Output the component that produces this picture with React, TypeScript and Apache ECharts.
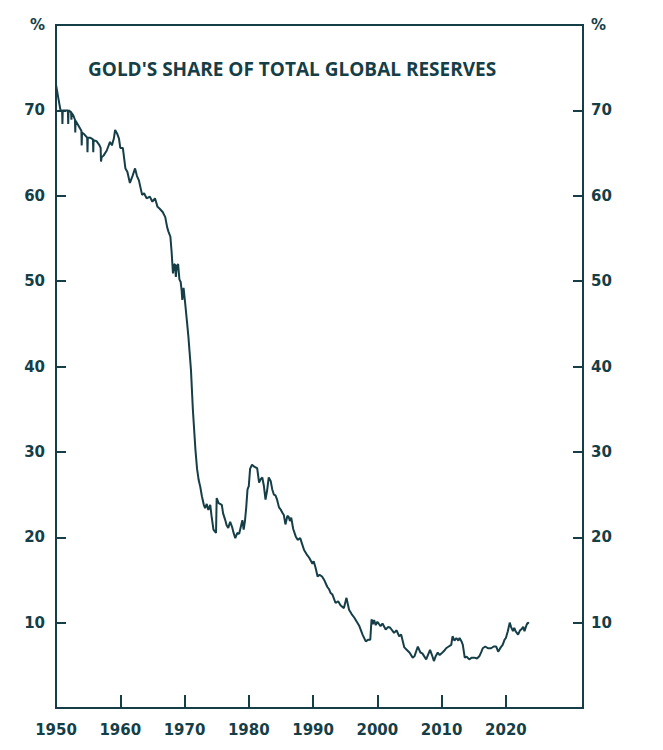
import React, { useEffect, useRef } from 'react';
import * as echarts from 'echarts';

const INK = '#153e47';

// Gold's share of total global reserves, %, by (decimal) year
const years = [
  1950.0, 1950.35, 1950.7, 1950.95, 1951.0, 1951.05, 1951.5, 1951.85, 1951.9, 1951.95,
  1952.35, 1952.4, 1952.45, 1952.7, 1952.95, 1953.0, 1953.05, 1953.5, 1953.95, 1954.0,
  1954.05, 1954.4, 1954.85, 1954.9, 1954.95, 1955.3, 1955.75, 1955.8, 1955.85, 1956.3,
  1956.7, 1956.95, 1957.0, 1957.1, 1957.4, 1957.9, 1958.4, 1958.7, 1959.0, 1959.2,
  1959.5, 1959.8, 1960.0, 1960.4, 1960.8, 1961.1, 1961.5, 1961.9, 1962.3, 1962.6,
  1962.9, 1963.4, 1963.7, 1964.1, 1964.6, 1965.0, 1965.4, 1965.8, 1966.1, 1966.6,
  1967.0, 1967.3, 1967.5, 1967.8, 1968.0, 1968.2, 1968.35, 1968.5, 1968.65, 1968.8,
  1969.0, 1969.2, 1969.4, 1969.55, 1969.65, 1969.85, 1970.1, 1970.35, 1970.6, 1971.0,
  1971.3, 1971.7, 1971.95, 1972.2, 1972.45, 1972.7, 1973.0, 1973.2, 1973.45, 1973.7,
  1974.0, 1974.2, 1974.5, 1974.9, 1975.0, 1975.3, 1975.8, 1976.0, 1976.3, 1976.55,
  1976.8, 1977.1, 1977.4, 1977.6, 1977.9, 1978.2, 1978.5, 1978.75, 1979.0, 1979.2,
  1979.4, 1979.6, 1979.8, 1980.0, 1980.2, 1980.5, 1980.8, 1981.0, 1981.3, 1981.6,
  1981.85, 1982.1, 1982.35, 1982.6, 1982.85, 1983.1, 1983.4, 1983.65, 1983.9, 1984.15,
  1984.4, 1984.7, 1985.0, 1985.2, 1985.45, 1985.7, 1986.0, 1986.2, 1986.4, 1986.6,
  1986.9, 1987.3, 1987.6, 1988.0, 1988.3, 1988.6, 1989.0, 1989.4, 1989.9, 1990.1,
  1990.4, 1990.7, 1991.0, 1991.4, 1991.8, 1992.2, 1992.5, 1992.7, 1993.0, 1993.5,
  1993.9, 1994.3, 1994.8, 1995.2, 1995.4, 1995.6, 1996.0, 1996.4, 1996.8, 1997.2,
  1997.7, 1998.2, 1998.6, 1998.9, 1999.1, 1999.3, 1999.5, 1999.75, 2000.0, 2000.5,
  2000.8, 2001.3, 2001.7, 2002.0, 2002.6, 2003.0, 2003.4, 2003.7, 2004.2, 2004.6,
  2005.0, 2005.5, 2005.8, 2006.3, 2006.7, 2007.0, 2007.6, 2008.2, 2008.5, 2008.8,
  2009.1, 2009.4, 2009.7, 2010.0, 2010.4, 2010.7, 2011.1, 2011.5, 2011.7, 2012.0,
  2012.3, 2012.6, 2012.8, 2013.1, 2013.3, 2013.6, 2013.9, 2014.3, 2014.7, 2015.1,
  2015.5, 2015.9, 2016.2, 2016.4, 2016.8, 2017.2, 2017.7, 2018.1, 2018.5, 2018.8,
  2019.2, 2019.5, 2019.8, 2020.0, 2020.3, 2020.6, 2020.8, 2021.1, 2021.3, 2021.5,
  2021.9, 2022.2, 2022.4, 2022.7, 2022.9, 2023.2, 2023.4, 2023.6,
];

const share = [
  73.0, 71.5, 70.0, 70.0, 68.4, 70.0, 70.0, 70.0, 68.4, 70.0,
  69.8, 68.9, 69.7, 69.4, 68.9, 67.4, 68.8, 68.2, 67.6, 65.9,
  67.4, 67.2, 66.8, 65.1, 66.8, 66.8, 66.6, 65.1, 66.5, 66.4,
  66.0, 65.6, 64.0, 64.5, 64.7, 65.3, 66.3, 65.9, 66.7, 67.7,
  67.3, 66.7, 65.6, 65.6, 63.2, 62.8, 61.5, 62.3, 63.2, 62.3,
  61.8, 60.1, 60.3, 59.7, 59.9, 59.3, 59.7, 58.7, 58.5, 58.1,
  57.5, 56.3, 55.8, 55.2, 53.3, 50.9, 51.9, 52.0, 50.5, 51.8,
  52.0, 50.2, 49.9, 48.9, 47.8, 49.2, 47.4, 45.5, 43.5, 39.6,
  34.9, 30.2, 28.0, 26.7, 25.9, 24.8, 23.8, 23.4, 23.9, 23.2,
  23.8, 22.5, 20.9, 20.5, 24.6, 24.0, 23.8, 22.8, 22.1, 21.4,
  21.1, 21.8, 21.2, 20.6, 19.9, 20.5, 20.4, 21.2, 22.0, 20.9,
  21.9, 23.5, 25.6, 26.0, 28.0, 28.5, 28.3, 28.2, 28.1, 26.4,
  26.8, 27.0, 26.0, 24.4, 25.5, 27.0, 26.6, 25.6, 25.0, 24.9,
  24.4, 23.5, 23.2, 22.9, 22.6, 21.5, 22.5, 22.4, 21.9, 22.3,
  21.0, 20.1, 19.7, 19.9, 19.2, 18.5, 18.0, 17.6, 16.9, 17.2,
  16.4, 15.4, 15.6, 15.4, 14.9, 14.2, 13.9, 13.5, 13.3, 12.3,
  12.5, 12.0, 11.7, 12.9, 12.2, 11.5, 11.0, 10.6, 10.1, 9.6,
  8.6, 7.8, 8.0, 8.0, 10.4, 9.8, 10.3, 9.7, 10.1, 9.6,
  9.9, 9.2, 9.5, 9.4, 8.8, 9.1, 8.4, 8.6, 7.1, 6.8,
  6.5, 5.9, 6.1, 7.2, 6.5, 6.4, 5.7, 6.8, 6.2, 5.5,
  6.1, 6.5, 6.2, 6.4, 6.7, 7.0, 7.2, 7.4, 8.4, 7.9,
  8.2, 7.9, 8.2, 7.8, 7.4, 5.9, 6.0, 5.7, 5.9, 5.9,
  5.8, 6.1, 6.6, 7.0, 7.2, 7.0, 7.0, 7.2, 7.2, 6.6,
  7.1, 7.4, 8.0, 8.2, 9.0, 10.0, 9.5, 9.0, 9.4, 9.0,
  8.6, 9.1, 9.2, 9.5, 9.0, 9.7, 10.0, 9.9,
];

const yearTicks = [1960, 1970, 1980, 1990, 2000, 2010, 2020];
const yearLabels = [1950, 1960, 1970, 1980, 1990, 2000, 2010, 2020];
const shareTicks = [10, 20, 30, 40, 50, 60, 70];
const shareLabels = [10, 20, 30, 40, 50, 60, 70, 80];

const TITLE = "GOLD'S SHARE OF TOTAL GLOBAL RESERVES";

export default function App() {
  const ref = useRef<HTMLDivElement>(null);

  useEffect(() => {
    document.body.style.margin = '0';
    const chart = echarts.init(ref.current!, null, { renderer: 'svg' });

    const labelFont = {
      color: INK,
      fontFamily: 'DejaVu Sans',
      fontWeight: 'bold' as const,
      fontSize: 15,
    };

    const shareAxis = (position: 'left' | 'right', margin: number) => ({
      type: 'value' as const,
      position,
      min: 0,
      max: 80,
      interval: 10,
      axisLine: { show: true, lineStyle: { color: INK, width: 2 } },
      axisTick: {
        show: true,
        inside: true,
        length: 10,
        customValues: shareTicks,
        lineStyle: { color: INK, width: 2 },
      },
      axisLabel: {
        ...labelFont,
        margin,
        padding: [4, 0, 0, 0],
        customValues: shareLabels,
        formatter: (v: number) => (v === 80 ? '%' : String(v)),
      },
      splitLine: { show: false },
    });

    chart.setOption({
      animation: false,
      grid: {
        left: 56,
        right: 80,
        top: 25,
        bottom: 42,
        show: true,
        borderColor: INK,
        borderWidth: 2,
      },
      title: {
        text: TITLE,
        left: 88,
        top: 59,
        padding: 0,
        textStyle: {
          color: INK,
          fontFamily: 'Open Sans',
          fontWeight: 'bold',
          fontSize: 19,
        },
      },
      xAxis: {
        type: 'value',
        min: 1950,
        max: 2032,
        axisLine: { show: true, lineStyle: { color: INK, width: 2 } },
        axisTick: {
          show: true,
          inside: true,
          length: 13,
          customValues: yearTicks,
          lineStyle: { color: INK, width: 2 },
        },
        axisLabel: {
          ...labelFont,
          margin: 14,
          customValues: yearLabels,
          formatter: (v: number) => String(v),
        },
        splitLine: { show: false },
      },
      yAxis: [shareAxis('left', 11), shareAxis('right', 8)],
      series: [
        {
          type: 'line',
          yAxisIndex: 0,
          data: years.map((y, i) => [y, share[i]]),
          showSymbol: false,
          lineStyle: { color: INK, width: 2 },
        },
      ],
    });

    return () => chart.dispose();
  }, []);

  return <div ref={ref} style={{ width: 663, height: 750 }} />;
}
